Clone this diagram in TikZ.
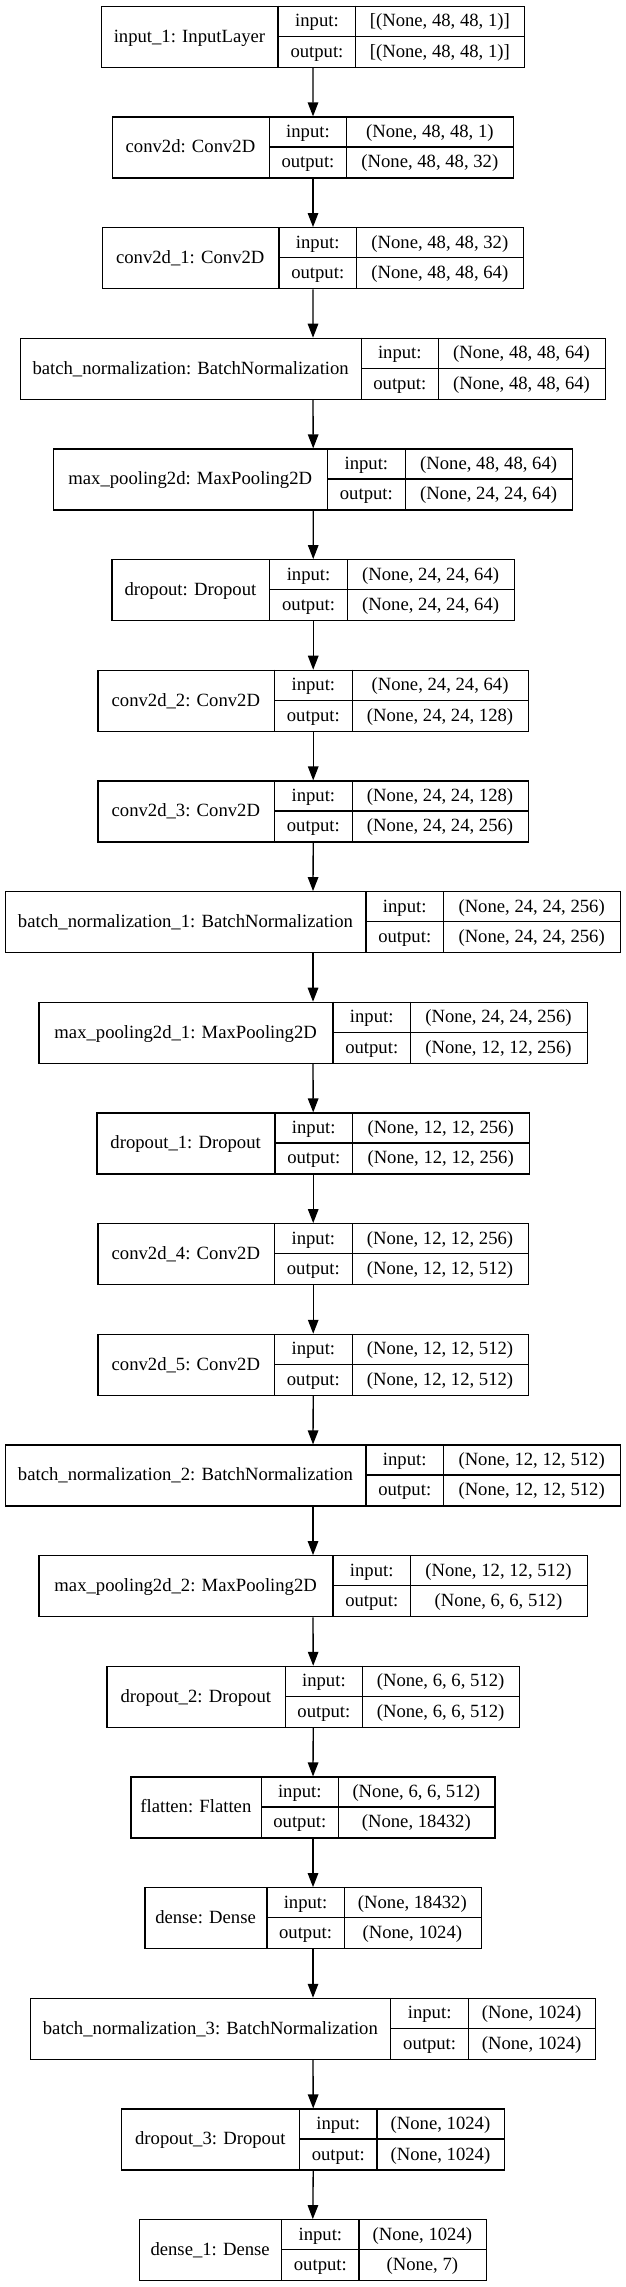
\documentclass[tikz,border=0pt]{standalone}
\usepackage{fontspec}
\setmainfont{Liberation Serif}
\usetikzlibrary{arrows.meta}
\tikzset{
  box/.style={draw=black, line width=1.33pt, inner sep=0pt, minimum height=61pt, anchor=north west},
  sep/.style={draw=black, line width=1.33pt},
  txt/.style={inner sep=0pt, anchor=base, font=\fontsize{18.67}{22}\selectfont},
  arr/.style={draw=black, line width=1.33pt, -{Triangle[length=14pt,width=10.5pt]}}
}
% #1 name, #2 index, #3 L, #4 d1, #5 d2, #6 R, #7 label, #8 input, #9 output
\newcommand\kerlayer[9]{%
  \pgfmathsetmacro\tp{5.7+110.67*(#2-1)}%
  \pgfmathsetmacro\bw{#6-#3}%
  \node[box, minimum width=\bw pt] (#1) at (#3,\tp) {};
  \draw[sep] (#4,\tp) -- (#4,\tp+61);
  \draw[sep] (#5,\tp) -- (#5,\tp+61);
  \draw[sep] (#4,\tp+30.5) -- (#6,\tp+30.5);
  \node[txt] (#1-l) at ({(#3+#4)/2},\tp+36.3) {#7};
  \node[txt] (#1-i) at ({(#4+#5)/2},\tp+21.05) {input:};
  \node[txt] (#1-o) at ({(#4+#5)/2},\tp+51.55) {output:};
  \node[txt] (#1-a) at ({(#5+#6)/2},\tp+21.05) {#8};
  \node[txt] (#1-b) at ({(#5+#6)/2},\tp+51.55) {#9};
}
\begin{document}
\begin{tikzpicture}[x=1pt,y=-1pt]
\useasboundingbox[fill=white] (0,0) rectangle (625,2287);
\kerlayer{n1}{1}{100.8}{278.1}{355.8}{523.9}{input\_1: InputLayer}{[(None, 48, 48, 1)]}{[(None, 48, 48, 1)]}
\kerlayer{n2}{2}{111.6}{269.3}{346.6}{513.1}{conv2d: Conv2D}{(None, 48, 48, 1)}{(None, 48, 48, 32)}
\kerlayer{n3}{3}{101.6}{278.9}{356.6}{523.1}{conv2d\_1: Conv2D}{(None, 48, 48, 32)}{(None, 48, 48, 64)}
\kerlayer{n4}{4}{19.9}{361.4}{438.2}{604.8}{batch\_normalization: BatchNormalization}{(None, 48, 48, 64)}{(None, 48, 48, 64)}
\kerlayer{n5}{5}{53.0}{327.5}{405.2}{572.1}{max\_pooling2d: MaxPooling2D}{(None, 48, 48, 64)}{(None, 24, 24, 64)}
\kerlayer{n6}{6}{111.2}{269.7}{347.4}{513.9}{dropout: Dropout}{(None, 24, 24, 64)}{(None, 24, 24, 64)}
\kerlayer{n7}{7}{97.2}{274.5}{352.2}{527.9}{conv2d\_2: Conv2D}{(None, 24, 24, 64)}{(None, 24, 24, 128)}
\kerlayer{n8}{8}{97.2}{274.5}{352.2}{527.9}{conv2d\_3: Conv2D}{(None, 24, 24, 128)}{(None, 24, 24, 256)}
\kerlayer{n9}{9}{4.8}{366.1}{443.4}{619.9}{batch\_normalization\_1: BatchNormalization}{(None, 24, 24, 256)}{(None, 24, 24, 256)}
\kerlayer{n10}{10}{38.2}{333.1}{410.4}{586.5}{max\_pooling2d\_1: MaxPooling2D}{(None, 24, 24, 256)}{(None, 12, 12, 256)}
\kerlayer{n11}{11}{96.4}{274.9}{352.6}{528.7}{dropout\_1: Dropout}{(None, 12, 12, 256)}{(None, 12, 12, 256)}
\kerlayer{n12}{12}{97.2}{274.5}{352.2}{527.9}{conv2d\_4: Conv2D}{(None, 12, 12, 256)}{(None, 12, 12, 512)}
\kerlayer{n13}{13}{97.2}{274.5}{352.2}{527.9}{conv2d\_5: Conv2D}{(None, 12, 12, 512)}{(None, 12, 12, 512)}
\kerlayer{n14}{14}{4.8}{366.1}{443.4}{619.9}{batch\_normalization\_2: BatchNormalization}{(None, 12, 12, 512)}{(None, 12, 12, 512)}
\kerlayer{n15}{15}{38.2}{333.1}{410.4}{586.5}{max\_pooling2d\_2: MaxPooling2D}{(None, 12, 12, 512)}{(None, 6, 6, 512)}
\kerlayer{n16}{16}{106.4}{285.3}{362.5}{518.7}{dropout\_2: Dropout}{(None, 6, 6, 512)}{(None, 6, 6, 512)}
\kerlayer{n17}{17}{130.3}{261.4}{338.2}{494.4}{flatten: Flatten}{(None, 6, 6, 512)}{(None, 18432)}
\kerlayer{n18}{18}{144.2}{266.9}{344.2}{480.5}{dense: Dense}{(None, 18432)}{(None, 1024)}
\kerlayer{n19}{19}{29.9}{390.8}{468.5}{594.8}{batch\_normalization\_3: BatchNormalization}{(None, 1024)}{(None, 1024)}
\kerlayer{n20}{20}{121.1}{299.6}{376.9}{504.0}{dropout\_3: Dropout}{(None, 1024)}{(None, 1024)}
\kerlayer{n21}{21}{138.6}{281.7}{359.0}{485.7}{dense\_1: Dense}{(None, 1024)}{(None, 7)}
\foreach \a/\b in {1/2,2/3,3/4,4/5,5/6,6/7,7/8,8/9,9/10,10/11,11/12,12/13,13/14,14/15,15/16,16/17,17/18,18/19,19/20,20/21}
  \draw[arr] (n\a.south) -- (n\b.north);
\end{tikzpicture}
\end{document}
